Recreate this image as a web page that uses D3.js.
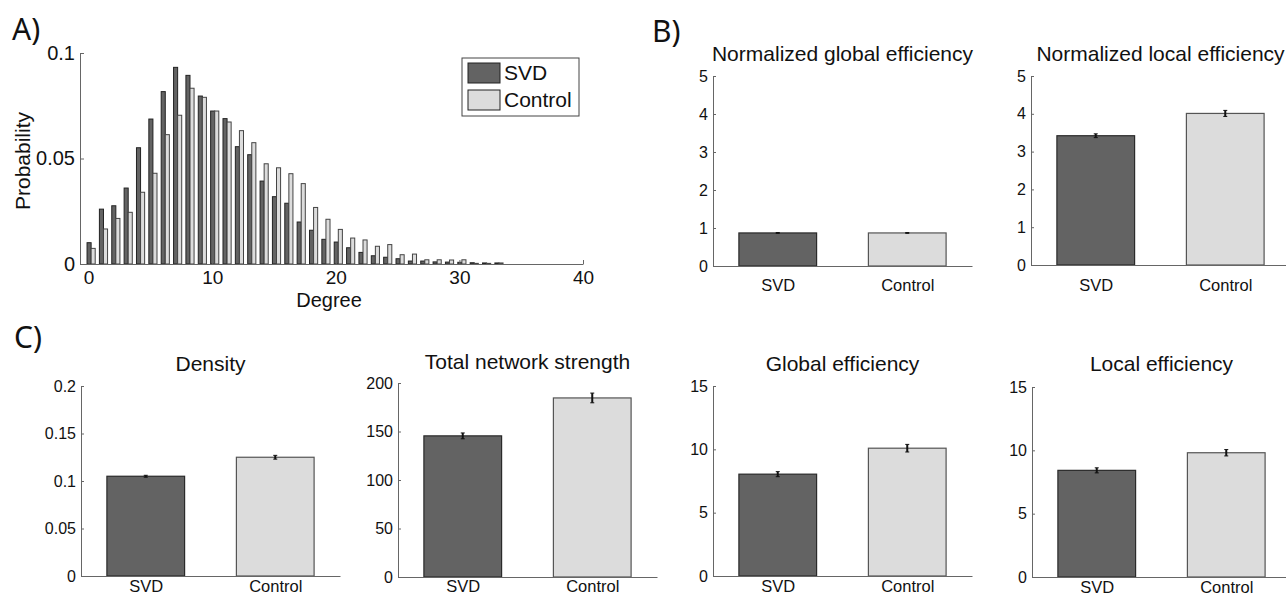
<!DOCTYPE html>
<html>
<head>
<meta charset="utf-8">
<script src="https://cdn.jsdelivr.net/npm/d3@7"></script>
<style>
  body { margin: 0; background: #fff; }
  svg text { font-family: "Liberation Sans", Arial, sans-serif; fill: #111; }
</style>
</head>
<body>
<div id="chart"></div>
<script>
// data
var degrees = [0,1,2,3,4,5,6,7,8,9,10,11,12,13,14,15,16,17,18,19,20,21,22,23,24,25,26,27,28,29,30,31,32,33];
var svdProb = [0.0101,0.026,0.0276,0.036,0.0551,0.0687,0.0817,0.0932,0.0894,0.0796,0.0725,0.0689,0.0556,0.0518,0.0393,0.0319,0.0288,0.0199,0.016,0.0117,0.0104,0.0077,0.0055,0.0039,0.0032,0.0025,0.0014,0.0014,0.001,0.0009,0.0008,0.0006,0.0005,0.0005];
var controlProb = [0.0074,0.0166,0.0216,0.0245,0.034,0.043,0.0613,0.0705,0.0833,0.079,0.0725,0.0673,0.0632,0.0575,0.0475,0.0456,0.0428,0.0381,0.0268,0.0212,0.0164,0.0123,0.0114,0.0084,0.0092,0.0044,0.0047,0.002,0.002,0.0019,0.002,0.0003,0.0003,0.0005];

var groups = ["SVD", "Control"];
var normGlobal = [0.87, 0.87];
var normGlobalErr = [0.01, 0.01];
var normLocal = [3.42, 4.01];
var normLocalErr = [0.05, 0.08];
var density = [0.105, 0.125];
var densityErr = [0.001, 0.002];
var strength = [145.5, 184.6];
var strengthErr = [3, 5];
var globalEff = [8.04, 10.09];
var globalEffErr = [0.2, 0.3];
var localEff = [8.42, 9.81];
var localEffErr = [0.2, 0.25];

var fills = { SVD: "#636363", Control: "#dcdcdc" };
var strokes = { SVD: "#2a2a2a", Control: "#555" };
var axisColor = "#666";

var svg = d3.select("#chart").append("svg")
    .attr("width", 1286)
    .attr("height", 595);

// panel letters
[["A)", 12, 40], ["B)", 652, 42], ["C)", 14, 348]].forEach(function(p) {
    svg.append("text")
        .attr("x", p[1]).attr("y", p[2])
        .style("font-family", "'Noto Sans', sans-serif")
        .attr("font-size", "30px")
        .text(p[0]);
});

function styleAxis(g) {
    g.select(".domain").attr("stroke", axisColor);
    g.selectAll(".tick line").attr("stroke", axisColor);
}

// ---- A) degree histogram ----
var hx = d3.scaleLinear().domain([-0.7, 40]).range([80, 583]);
var hy = d3.scaleLinear().domain([0, 0.1]).range([264, 53]);
var bw = 0.33;

var gA = svg.append("g");

gA.append("g").selectAll("rect")
    .data(degrees)
    .enter()
    .append("rect")
    .attr("x", d => hx(d - 0.13))
    .attr("width", hx(bw) - hx(0))
    .attr("y", (d, i) => hy(svdProb[i]))
    .attr("height", (d, i) => hy(0) - hy(svdProb[i]))
    .attr("fill", fills.SVD)
    .attr("stroke", "#222")
    .attr("stroke-width", 1);

gA.append("g").selectAll("rect")
    .data(degrees)
    .enter()
    .append("rect")
    .attr("x", d => hx(d - 0.13 + bw))
    .attr("width", hx(bw) - hx(0))
    .attr("y", (d, i) => hy(controlProb[i]))
    .attr("height", (d, i) => hy(0) - hy(controlProb[i]))
    .attr("fill", fills.Control)
    .attr("stroke", "#444")
    .attr("stroke-width", 1);

gA.append("g")
    .attr("transform", "translate(0,264)")
    .call(d3.axisBottom(hx).tickValues([0, 10, 20, 30, 40]).tickSizeInner(-4).tickSizeOuter(0).tickPadding(7))
    .call(styleAxis)
    .selectAll("text").attr("font-size", "19px").attr("fill", "#111");

gA.append("g")
    .attr("transform", "translate(80,0)")
    .call(d3.axisLeft(hy).tickValues([0, 0.05, 0.1]).tickFormat(d3.format("~g")).tickSizeInner(-4).tickSizeOuter(0).tickPadding(5))
    .call(styleAxis)
    .selectAll("text").attr("font-size", "20px").attr("fill", "#111");

gA.append("text")
    .attr("x", 329).attr("y", 307)
    .attr("text-anchor", "middle")
    .attr("font-size", "20px")
    .text("Degree");

gA.append("text")
    .attr("transform", "translate(30,161) rotate(-90)")
    .attr("text-anchor", "middle")
    .attr("font-size", "21px")
    .text("Probability");

// legend
var leg = gA.append("g");
leg.append("rect")
    .attr("x", 462).attr("y", 58).attr("width", 117).attr("height", 58)
    .attr("fill", "#fff").attr("stroke", "#444");
groups.forEach(function(g, i) {
    leg.append("rect")
        .attr("x", 468).attr("y", 63 + i * 27).attr("width", 32).attr("height", 20)
        .attr("fill", fills[g]).attr("stroke", "#222");
    leg.append("text")
        .attr("x", 504).attr("y", 80 + i * 27)
        .attr("font-size", "21px")
        .text(g);
});

// ---- bar panels ----
var panels = [
    { title: "Normalized global efficiency", vals: normGlobal, errs: normGlobalErr, max: 5, ticks: [0,1,2,3,4,5], left: 713, top: 76, bottom: 266, titleY: 61, catY: 291 },
    { title: "Normalized local efficiency", vals: normLocal, errs: normLocalErr, max: 5, ticks: [0,1,2,3,4,5], left: 1031, top: 76, bottom: 265, titleY: 61, catY: 291 },
    { title: "Density", vals: density, errs: densityErr, max: 0.2, ticks: [0,0.05,0.1,0.15,0.2], left: 81, top: 386, bottom: 576, titleY: 371, catY: 592 },
    { title: "Total network strength", vals: strength, errs: strengthErr, max: 200, ticks: [0,50,100,150,200], left: 398, top: 383, bottom: 577, titleY: 369, catY: 592 },
    { title: "Global efficiency", vals: globalEff, errs: globalEffErr, max: 15, ticks: [0,5,10,15], left: 713, top: 386, bottom: 576, titleY: 371, catY: 592 },
    { title: "Local efficiency", vals: localEff, errs: localEffErr, max: 15, ticks: [0,5,10,15], left: 1032, top: 387, bottom: 577, titleY: 371, catY: 593 }
];

panels.forEach(function(p) {
    var x = d3.scaleLinear().domain([0.5, 2.5]).range([p.left, p.left + 259]);
    var y = d3.scaleLinear().domain([0, p.max]).range([p.bottom, p.top]);
    var g = svg.append("g");
    var rows = groups.map((name, i) => ({ name: name, pos: i + 1, v: p.vals[i], e: p.errs[i] }));

    g.selectAll("rect")
        .data(rows)
        .enter()
        .append("rect")
        .attr("x", d => x(d.pos - 0.3))
        .attr("width", x(0.6) - x(0))
        .attr("y", d => y(d.v))
        .attr("height", d => y(0) - y(d.v))
        .attr("fill", d => fills[d.name])
        .attr("stroke", d => strokes[d.name])
        .attr("stroke-width", 1.2);

    // error bars
    var eb = g.selectAll(".err").data(rows).enter().append("g").attr("class", "err");
    eb.append("line")
        .attr("x1", d => x(d.pos)).attr("x2", d => x(d.pos))
        .attr("y1", d => y(d.v - d.e)).attr("y2", d => y(d.v + d.e))
        .attr("stroke", "#111").attr("stroke-width", 2);
    eb.append("line")
        .attr("x1", d => x(d.pos) - 2).attr("x2", d => x(d.pos) + 2)
        .attr("y1", d => y(d.v + d.e)).attr("y2", d => y(d.v + d.e))
        .attr("stroke", "#111").attr("stroke-width", 1);
    eb.append("line")
        .attr("x1", d => x(d.pos) - 2).attr("x2", d => x(d.pos) + 2)
        .attr("y1", d => y(d.v - d.e)).attr("y2", d => y(d.v - d.e))
        .attr("stroke", "#111").attr("stroke-width", 1);

    g.append("g")
        .attr("transform", `translate(0,${p.bottom})`)
        .call(d3.axisBottom(x).tickValues([1, 2]).tickFormat(d => groups[d - 1]).tickSize(0).tickPadding(p.catY - p.bottom - 12))
        .call(styleAxis)
        .selectAll("text").attr("font-size", "16.5px").attr("fill", "#111");

    g.append("g")
        .attr("transform", `translate(${p.left},0)`)
        .call(d3.axisLeft(y).tickValues(p.ticks).tickFormat(d3.format("~g")).tickSizeInner(-3).tickSizeOuter(0).tickPadding(5))
        .call(styleAxis)
        .selectAll("text").attr("font-size", "16px").attr("fill", "#111");

    g.append("text")
        .attr("x", p.left + 259 / 2).attr("y", p.titleY)
        .attr("text-anchor", "middle")
        .attr("font-size", "21px")
        .text(p.title);
});
</script>
</body>
</html>
